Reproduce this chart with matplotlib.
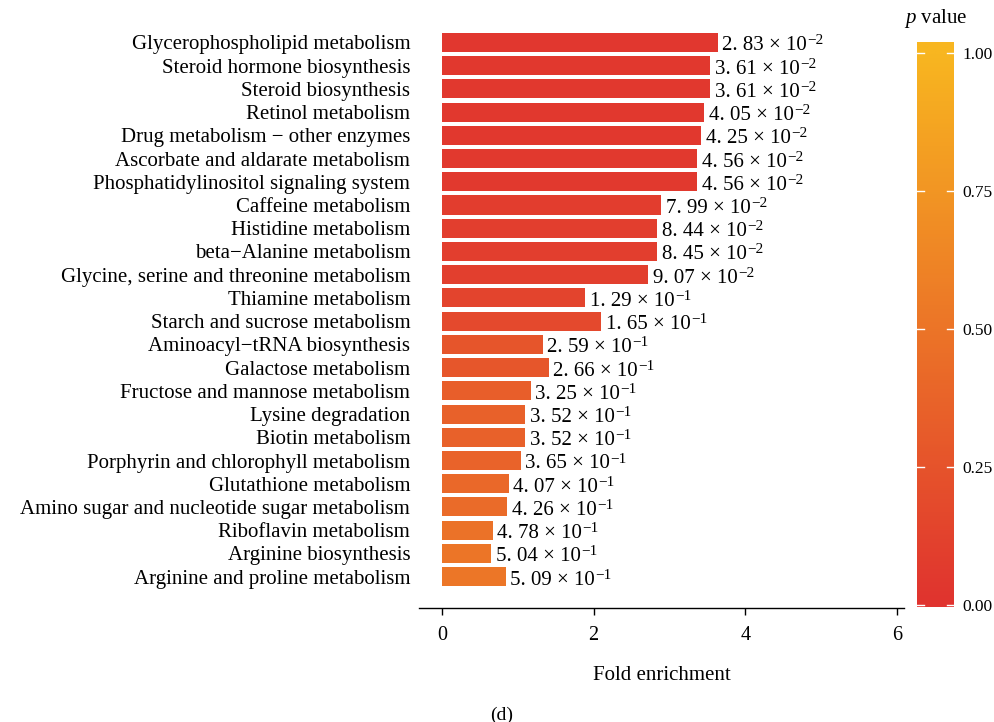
import numpy as np
import matplotlib.pyplot as plt
from matplotlib.colors import LinearSegmentedColormap, Normalize

plt.rcParams['font.family'] = ['Liberation Serif', 'DejaVu Serif']
plt.rcParams['mathtext.fontset'] = 'custom'
plt.rcParams['mathtext.rm'] = 'Liberation Serif'
plt.rcParams['mathtext.it'] = 'Liberation Serif:italic'
plt.rcParams['mathtext.default'] = 'regular'

pathways = ['Glycerophospholipid metabolism', 'Steroid hormone biosynthesis',
            'Steroid biosynthesis', 'Retinol metabolism',
            'Drug metabolism \u2212 other enzymes', 'Ascorbate and aldarate metabolism',
            'Phosphatidylinositol signaling system', 'Caffeine metabolism',
            'Histidine metabolism', 'beta\u2212Alanine metabolism',
            'Glycine, serine and threonine metabolism', 'Thiamine metabolism',
            'Starch and sucrose metabolism', 'Aminoacyl\u2212tRNA biosynthesis',
            'Galactose metabolism', 'Fructose and mannose metabolism',
            'Lysine degradation', 'Biotin metabolism',
            'Porphyrin and chlorophyll metabolism', 'Glutathione metabolism',
            'Amino sugar and nucleotide sugar metabolism', 'Riboflavin metabolism',
            'Arginine biosynthesis', 'Arginine and proline metabolism']
fold = [3.64, 3.54, 3.54, 3.46, 3.42, 3.37, 3.37, 2.89, 2.84, 2.84, 2.72, 1.89,
        2.10, 1.33, 1.41, 1.17, 1.10, 1.10, 1.04, 0.88, 0.86, 0.67, 0.65, 0.84]
pval_mant = [2.83, 3.61, 3.61, 4.05, 4.25, 4.56, 4.56, 7.99, 8.44, 8.45, 9.07, 1.29,
             1.65, 2.59, 2.66, 3.25, 3.52, 3.52, 3.65, 4.07, 4.26, 4.78, 5.04, 5.09]
pval_exp = [-2] * 11 + [-1] * 13

pvals = np.array(pval_mant) * 10.0 ** np.array(pval_exp)

cmap = LinearSegmentedColormap.from_list('pv', ['#E0332F', '#F8B620'])
norm = Normalize(0, 1)

fig = plt.figure(figsize=(9.95, 7.22), dpi=100)
ax = fig.add_axes([442 / 995 - 0.3 * 75.8 / 995, 1 - 608 / 722,
                   6.4 * 75.8 / 995, (608 - 25) / 722])

y = np.arange(len(pathways))
ax.barh(y, fold, height=0.82, color=cmap(norm(pvals)))
for yi, f, m, e in zip(y, fold, pval_mant, pval_exp):
    base = ('%.2f' % m).replace('.', '. ') + ' \u00d7 10'
    t = ax.text(f + 0.06, yi + 0.15, base, ha='left', va='center', fontsize=15)
    ax.annotate('\u2212%d' % (-e), xy=(1, 0.42), xycoords=t, xytext=(0.3, 0),
                textcoords='offset points', ha='left', va='bottom', fontsize=11)

ax.set_yticks(y)
ax.set_yticklabels(pathways, fontsize=15)
ax.set_ylim(len(pathways) - 1 + 1.35, -0.75)
ax.set_xlim(-0.3, 6.1)
ax.set_xticks([0, 2, 4, 6])
ax.tick_params(axis='x', labelsize=14.5, length=5, width=1, pad=8)
ax.tick_params(axis='y', length=0, pad=6.5)
for s in ['top', 'right', 'left']:
    ax.spines[s].set_visible(False)
ax.spines['bottom'].set_linewidth(1)
ax.set_xlabel('Fold enrichment', fontsize=15, labelpad=15)

# colour bar drawn as a gradient image
lo, hi = -0.004, 1.02
cax = fig.add_axes([917 / 995, 1 - 607 / 722, 37 / 995, (607 - 42) / 722])
grad = np.clip(np.linspace(lo, hi, 256), 0, 1).reshape(-1, 1)
cax.imshow(grad, cmap=cmap, norm=norm, aspect='auto', origin='lower',
           extent=[0, 1, lo, hi])
cax.set_xlim(0, 1)
cax.set_ylim(lo, hi)
cax.set_xticks([])
cax.yaxis.tick_right()
cax.set_yticks([0, 0.25, 0.5, 0.75, 1.0])
cax.set_yticklabels(['0.00', '0.25', '0.50', '0.75', '1.00'])
cax.tick_params(labelsize=12.5, length=0, pad=6)
for s in cax.spines.values():
    s.set_visible(False)
for t in [0, 0.25, 0.5, 0.75, 1.0]:
    cax.plot([0, 0.2], [t, t], color='white', lw=1)
    cax.plot([0.8, 1], [t, t], color='white', lw=1)
fig.text(936 / 995, 1 - 18 / 722, '$\\mathit{p}$ value', ha='center', va='center', fontsize=15)

fig.text(502 / 995, 1 - 715 / 722, '(d)', ha='center', va='center', fontsize=14)

fig.savefig('out.png', dpi=100)
